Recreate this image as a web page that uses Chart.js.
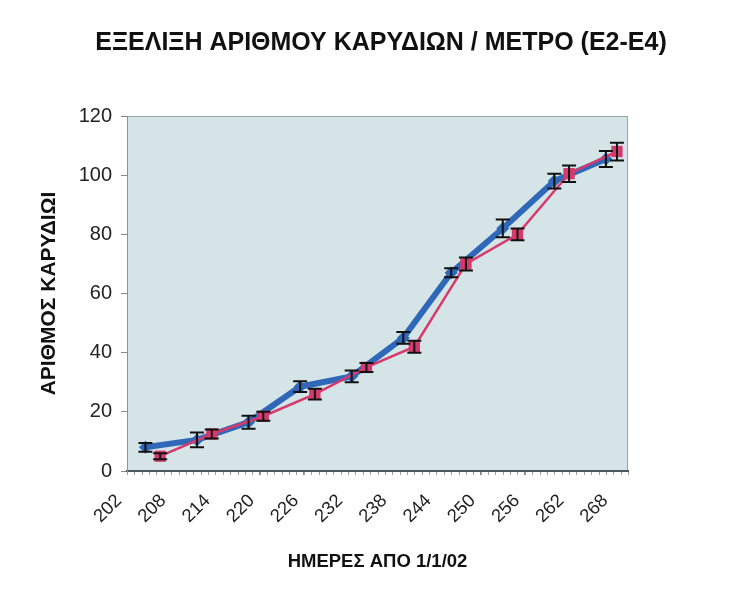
<!DOCTYPE html>
<html>
<head>
<meta charset="utf-8">
<title>ΕΞΕΛΙΞΗ ΑΡΙΘΜΟΥ ΚΑΡΥΔΙΩΝ</title>
<script src="https://cdn.jsdelivr.net/npm/chart.js@4.4.1/dist/chart.umd.min.js"></script>
<style>
    body { margin: 0; background: #fff; }
    canvas { display: block; }
</style>
</head>
<body>
<canvas id="chartKarydia" width="743" height="600"></canvas>
<script>
// ημέρες από 1/1/02 και αριθμός καρυδιών ανά μέτρο
const xTicks = [202, 208, 214, 220, 226, 232, 238, 244, 250, 256, 262, 268];

const daysE2 = [204.5, 211.5, 218.5, 225.5, 232.5, 239.5, 246, 253, 260, 267];
const countE2 = [8, 10.5, 16.5, 28.5, 32, 45, 67, 82, 98, 105.5];
const errE2 = [1.5, 2.5, 2.2, 1.8, 2, 2, 1.5, 3, 2.5, 2.7];

const daysE4 = [206.5, 213.5, 220.5, 227.5, 234.5, 241, 248, 255, 262, 268.5];
const countE4 = [5, 12.5, 18.5, 26, 35, 42, 70, 80, 100.5, 108];
const errE4 = [1, 1.5, 1.5, 1.8, 1.5, 2, 2.2, 2, 2.8, 3];

const FONT = "'Liberation Sans', Arial, sans-serif";

// φόντο περιοχής σχεδίασης
const plotBackground = {
    id: "plotBackground",
    beforeDraw(chart) {
        const { ctx, chartArea: a } = chart;
        ctx.save();
        ctx.fillStyle = "#d4e4e7";
        ctx.fillRect(a.left, a.top, a.right - a.left, a.bottom - a.top);
        ctx.strokeStyle = "#9aa6a6";
        ctx.lineWidth = 1;
        ctx.strokeRect(a.left + 0.5, a.top + 0.5, a.right - a.left - 1, a.bottom - a.top - 1);
        ctx.restore();
    },
    // μικρές υποδιαιρέσεις ανά ημέρα στον άξονα x
    afterDraw(chart) {
        const { ctx, chartArea: a, scales: { x } } = chart;
        ctx.save();
        ctx.strokeStyle = "#9aa0a0";
        ctx.lineWidth = 1;
        ctx.beginPath();
        for (let d = x.min; d <= x.max; d++) {
            const px = Math.round(x.getPixelForValue(d)) + 0.5;
            ctx.moveTo(px, a.bottom + 1);
            ctx.lineTo(px, a.bottom + 4);
        }
        ctx.stroke();
        ctx.restore();
    }
};

// μπάρες σφάλματος
const errorBars = {
    id: "errorBars",
    afterDatasetsDraw(chart) {
        const { ctx, scales: { x, y } } = chart;
        ctx.save();
        ctx.strokeStyle = "#111";
        ctx.lineWidth = 2;
        chart.data.datasets.forEach(ds => {
            ds.data.forEach((p, i) => {
                const e = ds.errors[i];
                const px = x.getPixelForValue(p.x);
                const top = y.getPixelForValue(p.y + e);
                const bot = y.getPixelForValue(p.y - e);
                ctx.beginPath();
                ctx.moveTo(px, top);
                ctx.lineTo(px, bot);
                ctx.moveTo(px - 7, top);
                ctx.lineTo(px + 7, top);
                ctx.moveTo(px - 7, bot);
                ctx.lineTo(px + 7, bot);
                ctx.stroke();
            });
        });
        ctx.restore();
    }
};

document.addEventListener("DOMContentLoaded", () => {
    const ctx = document.getElementById("chartKarydia");
    if (!ctx) return;

    new Chart(ctx, {
        type: "line",
        data: {
            datasets: [
                {
                    label: "E4",
                    data: daysE4.map((d, i) => ({ x: d, y: countE4[i] })),
                    errors: errE4,
                    borderColor: "#d63a6c",
                    backgroundColor: "#d63a6c",
                    borderWidth: 2.5,
                    pointStyle: "rect",
                    pointRadius: 8,
                    pointBorderWidth: 0
                },
                {
                    label: "E2",
                    data: daysE2.map((d, i) => ({ x: d, y: countE2[i] })),
                    errors: errE2,
                    borderColor: "#2f68b8",
                    backgroundColor: "#2f68b8",
                    borderWidth: 6,
                    pointStyle: "rectRot",
                    pointRadius: 6.5,
                    pointBorderWidth: 0
                }
            ]
        },
        options: {
            responsive: false,
            animation: false,
            layout: { padding: { left: 19, right: 0, top: 0, bottom: 27 } },
            plugins: {
                legend: { display: false },
                tooltip: { enabled: false },
                title: {
                    display: true,
                    text: "ΕΞΕΛΙΞΗ ΑΡΙΘΜΟΥ ΚΑΡΥΔΙΩΝ / ΜΕΤΡΟ (Ε2-Ε4)",
                    color: "#111",
                    font: { family: FONT, size: 25, weight: "bold" },
                    padding: { top: 28, bottom: 58 }
                }
            },
            scales: {
                x: {
                    type: "linear",
                    position: "bottom",
                    min: 202,
                    max: 270,
                    afterBuildTicks: s => { s.ticks = xTicks.map(v => ({ value: v })); },
                    afterFit: s => { s.height = 102; },
                    ticks: {
                        minRotation: 45,
                        maxRotation: 45,
                        padding: 15,
                        labelOffset: -8,
                        color: "#222",
                        font: { family: FONT, size: 18.5 }
                    },
                    grid: { drawOnChartArea: false, tickLength: 4, color: "#888" },
                    border: { color: "#4c5757", width: 2 },
                    title: {
                        display: true,
                        text: "ΗΜΕΡΕΣ ΑΠΟ 1/1/02",
                        color: "#111",
                        font: { family: FONT, size: 18.5, weight: "bold" },
                        padding: { top: 0, bottom: 0 }
                    }
                },
                y: {
                    position: "left",
                    min: 0,
                    max: 120,
                    afterFit: s => { s.width = 108; },
                    ticks: {
                        stepSize: 20,
                        padding: 9,
                        color: "#222",
                        font: { family: FONT, size: 20 }
                    },
                    grid: { drawOnChartArea: false, tickLength: 6, color: "#888" },
                    border: { color: "#8a9696" },
                    title: {
                        display: true,
                        text: "ΑΡΙΘΜΟΣ ΚΑΡΥΔΙΩΙ",
                        color: "#111",
                        font: { family: FONT, size: 21, weight: "bold" },
                        padding: { top: 18, bottom: 0 }
                    }
                },
                yRight: {
                    position: "right",
                    afterFit: s => { s.width = 115; },
                    ticks: { display: false },
                    grid: { display: false },
                    border: { display: false }
                }
            }
        },
        plugins: [plotBackground, errorBars]
    });
});
</script>
</body>
</html>
